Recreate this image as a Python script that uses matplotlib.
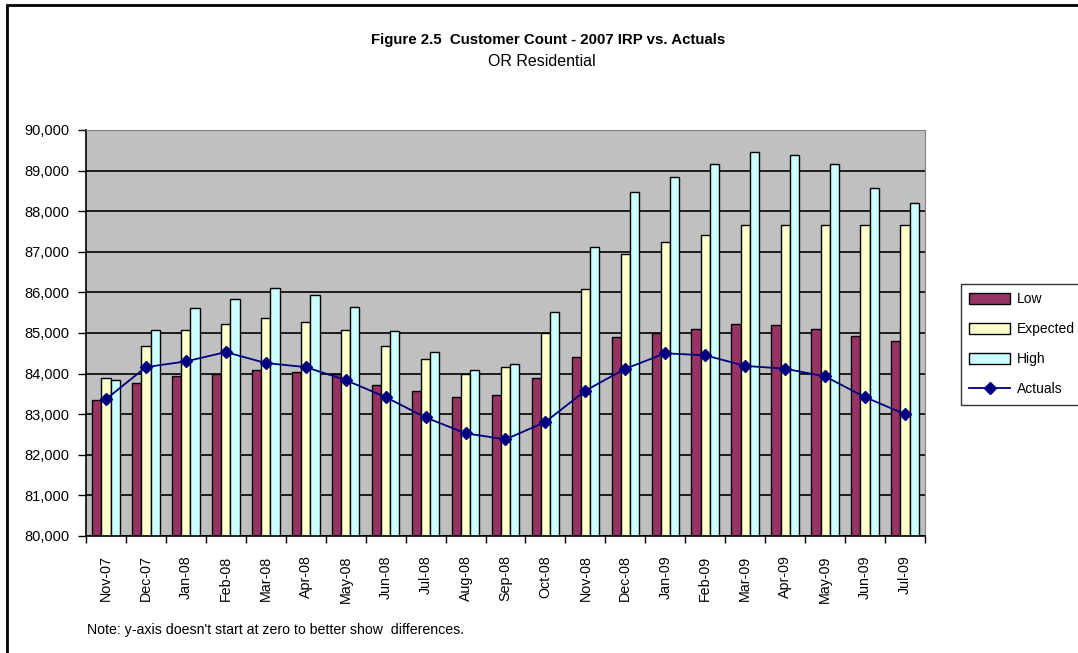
import matplotlib.pyplot as plt
from matplotlib.patches import Rectangle
import numpy as np

plt.rcParams['font.family'] = ['Liberation Sans', 'DejaVu Sans']

months = ['Nov-07', 'Dec-07', 'Jan-08', 'Feb-08', 'Mar-08', 'Apr-08', 'May-08',
          'Jun-08', 'Jul-08', 'Aug-08', 'Sep-08', 'Oct-08', 'Nov-08', 'Dec-08',
          'Jan-09', 'Feb-09', 'Mar-09', 'Apr-09', 'May-09', 'Jun-09', 'Jul-09']
low = [83340, 83770, 83930, 83990, 84080, 84040, 83990, 83730, 83580, 83430, 83470,
       83890, 84420, 84890, 85000, 85110, 85230, 85190, 85110, 84920, 84810]
expected = [83890, 84690, 85080, 85230, 85380, 85280, 85080, 84690, 84350, 83990, 84160,
            85000, 86080, 86950, 87230, 87420, 87650, 87650, 87650, 87650, 87650]
high = [83840, 85080, 85620, 85840, 86120, 85930, 85650, 85050, 84540, 84080, 84230,
        85510, 87130, 88470, 88850, 89160, 89470, 89390, 89160, 88580, 88200]
actuals = [83370, 84160, 84300, 84530, 84260, 84160, 83840, 83420, 82920, 82530, 82380,
           82810, 83580, 84120, 84500, 84450, 84190, 84120, 83930, 83420, 83000]

fig = plt.figure(figsize=(10.78, 6.53), dpi=100)
ax = fig.add_axes([86 / 1078, 1 - 536 / 653, 839 / 1078, 406 / 653])

x = np.arange(len(months))
w = 0.23
b1 = ax.bar(x - w, low, w, color='#993366', edgecolor='black', linewidth=1, label='Low', zorder=2)
b2 = ax.bar(x, expected, w, color='#FFFFCC', edgecolor='black', linewidth=1, label='Expected', zorder=2)
b3 = ax.bar(x + w, high, w, color='#CCFFFF', edgecolor='black', linewidth=1, label='High', zorder=2)
l1, = ax.plot(x, actuals, color='#000080', marker='D', markersize=6, linewidth=1.3,
              label='Actuals', zorder=3)

ax.set_ylim(80000, 90000)
ax.set_xlim(-0.5, len(months) - 0.5)
ax.set_facecolor('#C0C0C0')
ax.set_yticks(np.arange(80000, 90001, 1000))
ax.set_yticklabels(['{:,}'.format(v) for v in range(80000, 90001, 1000)])
ax.yaxis.grid(True, color='black', linewidth=1.2, zorder=1)
ax.set_axisbelow(True)

ax.set_xticks(x)
ax.set_xticklabels(months, rotation=90)
ax.set_xticks(np.arange(-0.5, len(months), 1), minor=True)
ax.tick_params(axis='x', which='major', length=0, pad=14, labelsize=10.3)
ax.tick_params(axis='x', which='minor', length=5, width=1, direction='out')
ax.tick_params(axis='y', length=6, width=1, pad=6, labelsize=10.5)

ax.spines['top'].set_color('#808080')
ax.spines['right'].set_color('#808080')
ax.spines['left'].set_linewidth(1.2)
ax.spines['bottom'].set_linewidth(1.2)

fig.text(548 / 1078, 1 - 40 / 653, 'Figure 2.5  Customer Count - 2007 IRP vs. Actuals',
         ha='center', va='center', fontsize=10.8, fontweight='bold')
fig.text(542 / 1078, 1 - 61 / 653, 'OR Residential', ha='center', va='center', fontsize=11.5)
fig.text(87 / 1078, 1 - 630 / 653, "Note: y-axis doesn't start at zero to better show  differences.",
         ha='left', va='center', fontsize=10.2)

leg = fig.legend([b1, b2, b3, l1], ['Low', 'Expected', 'High', 'Actuals'],
                 loc='upper left', bbox_to_anchor=(961 / 1078, 1 - 284 / 653),
                 frameon=True, fancybox=False, edgecolor='black', fontsize=10,
                 handlelength=2.95, handleheight=0.8, handletextpad=0.45,
                 labelspacing=1.15, borderpad=0.6, borderaxespad=0)
leg.get_frame().set_linewidth(1)

fig.patches.append(Rectangle((7 / 1078, -0.1), 2, 1.1 - 5 / 653, transform=fig.transFigure,
                             fill=False, edgecolor='black', linewidth=2))

fig.savefig('out.png', dpi=100)
